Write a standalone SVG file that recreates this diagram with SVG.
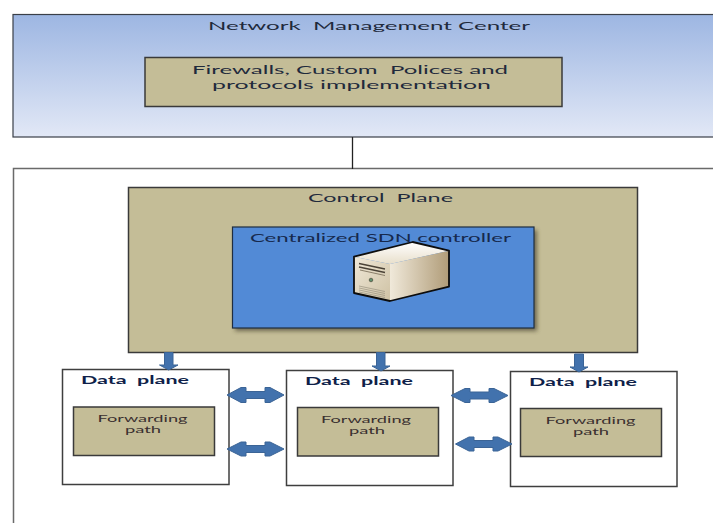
<svg xmlns="http://www.w3.org/2000/svg" width="713" height="523" viewBox="0 0 713 523">
  <style>
    text { font-family: "Lato", "Open Sans", "Liberation Sans", sans-serif; fill: #1f2a3c; white-space: pre; }
    .t { font-size: 11.500px; }
    .tan { fill: #c4bd97; stroke: #3a3a3a; stroke-width: 1.500; }
    .dp { fill: #ffffff; stroke: #3f3f3f; stroke-width: 1.500; }
    .dt { font-size: 11.500px; font-weight: 700; fill: #0f1f4a; }
    .ft { font-size: 9px; fill: #3a3030; }
    .arrow { fill: #4272ad; stroke: #3b6496; stroke-width: 1; }
  </style>
  <defs>
    <linearGradient id="sky" x1="0" y1="0" x2="0" y2="1">
      <stop offset="0" stop-color="#9db6e2"/>
      <stop offset="1" stop-color="#e2e8f6"/>
    </linearGradient>
    <linearGradient id="srvTop" x1="0" y1="0" x2="0" y2="1">
      <stop offset="0" stop-color="#ffffff"/>
      <stop offset="1" stop-color="#e8dfcb"/>
    </linearGradient>
    <linearGradient id="srvSide" x1="0" y1="0" x2="1" y2="0">
      <stop offset="0" stop-color="#f0e9da"/>
      <stop offset="1" stop-color="#b09c78"/>
    </linearGradient>
    <linearGradient id="srvFront" x1="0" y1="0" x2="1" y2="1">
      <stop offset="0" stop-color="#efe8d8"/>
      <stop offset="1" stop-color="#cfc2a4"/>
    </linearGradient>
    <filter id="soft" x="-10%" y="-10%" width="120%" height="120%">
      <feGaussianBlur stdDeviation="2.200"/>
    </filter>
  </defs>

  <rect width="713" height="523" fill="#ffffff"/>

  <g id="network-management-center">
    <rect x="13" y="14.500" width="720" height="122.500" fill="url(#sky)" stroke="#3a3f48" stroke-width="1.200"/>
    <text class="t" x="208" y="29.500" textLength="322" lengthAdjust="spacingAndGlyphs">Network  Management Center</text>
  </g>
  <g id="firewalls">
    <rect class="tan" x="145" y="57.500" width="417" height="49"/>
    <text class="t" x="192" y="73.500" textLength="316" lengthAdjust="spacingAndGlyphs">Firewalls, Custom  Polices and</text>
    <text class="t" x="212" y="89" textLength="279" lengthAdjust="spacingAndGlyphs">protocols implementation</text>
  </g>

  <g id="outer-frame">
    <path d="M733 168.500H13.500V523" fill="none" stroke="#6a6a6a" stroke-width="1.500"/>
  </g>

  <g id="control-plane">
    <rect class="tan" x="128.500" y="187.500" width="509" height="165"/>
    <text class="t" x="308" y="202" textLength="145" lengthAdjust="spacingAndGlyphs">Control  Plane</text>
  </g>

  <g id="sdn-controller">
    <rect x="235" y="230" width="302" height="101" fill="#3f3a2c" opacity="0.650" filter="url(#soft)"/>
    <rect x="232.500" y="227" width="301.500" height="101" fill="#528ad6" stroke="#1f2d40" stroke-width="1.200"/>
    <text class="t" x="250" y="241.500" textLength="261" lengthAdjust="spacingAndGlyphs" style="fill:#16294d">Centralized SDN controller</text>
    <polygon points="354,256.700 412.700,242 449,250.700 390,264" fill="url(#srvTop)"/>
    <polygon points="390,264 449,250.700 449,286.700 390,301" fill="url(#srvSide)"/>
    <polygon points="354,256.700 390,264 390,301 354,293" fill="url(#srvFront)"/>
    <polygon points="354,256.700 412.700,242 449,250.700 449,286.700 390,301 354,293" fill="none" stroke="#0d0d0d" stroke-width="1.800" stroke-linejoin="round"/>
    <path d="M359 263.500L385 269M359 267L385 272.500" fill="none" stroke="#4a4236" stroke-width="1.300"/>
    <path d="M360 270L385 275.500" stroke="#8a7f6a" stroke-width="1" fill="none"/>
    <circle cx="371" cy="280" r="1.800" fill="#5f8f6e" stroke="#4a4a3a" stroke-width="0.700"/>
    <path d="M359 286L385 291.500M359 288L385 293.500M359 290L385 295.500M359 292L385 297.500" fill="none" stroke="#9a9280" stroke-width="0.700"/>
  </g>

  <g id="data-plane-1">
    <rect class="dp" x="62.500" y="369.500" width="166.500" height="115"/>
    <text class="dt" x="81" y="383.500" textLength="108" lengthAdjust="spacingAndGlyphs">Data  plane</text>
    <rect class="tan" x="73.500" y="407" width="141" height="48.500"/>
    <text class="ft" x="97.500" y="421.500" textLength="90" lengthAdjust="spacingAndGlyphs">Forwarding</text>
    <text class="ft" x="125" y="432.500" textLength="36" lengthAdjust="spacingAndGlyphs">path</text>
  </g>
  <g id="data-plane-2">
    <rect class="dp" x="286.500" y="370.500" width="166.500" height="115"/>
    <text class="dt" x="305" y="384.500" textLength="108" lengthAdjust="spacingAndGlyphs">Data  plane</text>
    <rect class="tan" x="297.500" y="407.500" width="141" height="48.500"/>
    <text class="ft" x="321" y="423" textLength="90" lengthAdjust="spacingAndGlyphs">Forwarding</text>
    <text class="ft" x="349" y="434" textLength="36" lengthAdjust="spacingAndGlyphs">path</text>
  </g>
  <g id="data-plane-3">
    <rect class="dp" x="510.500" y="371.500" width="166.500" height="115"/>
    <text class="dt" x="529" y="385.500" textLength="108" lengthAdjust="spacingAndGlyphs">Data  plane</text>
    <rect class="tan" x="520.500" y="408.500" width="141" height="48"/>
    <text class="ft" x="545.500" y="424" textLength="90" lengthAdjust="spacingAndGlyphs">Forwarding</text>
    <text class="ft" x="573" y="435" textLength="36" lengthAdjust="spacingAndGlyphs">path</text>
  </g>

  <g id="connectors">
    <line x1="352.500" y1="137" x2="352.500" y2="169" stroke="#222222" stroke-width="1.300"/>
    <polygon class="arrow" points="164.500,352.500 173,352.500 173,365 178,365 168.700,370 159.500,365 164.500,365"/>
    <polygon class="arrow" points="376.500,352.500 385,352.500 385,366 390,366 381,371 372,366 376.500,366"/>
    <polygon class="arrow" points="574.500,354 583.500,354 583.500,367 588,367 579,372 570,367 574.500,367"/>
    <polygon class="arrow" points="227,395 241,387.500 246,387.500 246,391.500 265,391.500 265,387.500 270,387.500 284,395 270,402.500 265,402.500 265,398.500 246,398.500 246,402.500 241,402.500"/>
    <polygon class="arrow" points="227,449 241,442 246,442 246,445.500 265,445.500 265,442 270,442 284,449 270,456 265,456 265,452.500 246,452.500 246,456 241,456"/>
    <polygon class="arrow" points="451,395.500 465,388.500 470,388.500 470,392 489,392 489,388.500 494,388.500 508,395.500 494,402.500 489,402.500 489,399 470,399 470,402.500 465,402.500"/>
    <polygon class="arrow" points="455.500,444 469,437 474,437 474,440.500 493,440.500 493,437 498,437 512,444 498,451 493,451 493,447.500 474,447.500 474,451 469,451"/>
  </g>
</svg>
